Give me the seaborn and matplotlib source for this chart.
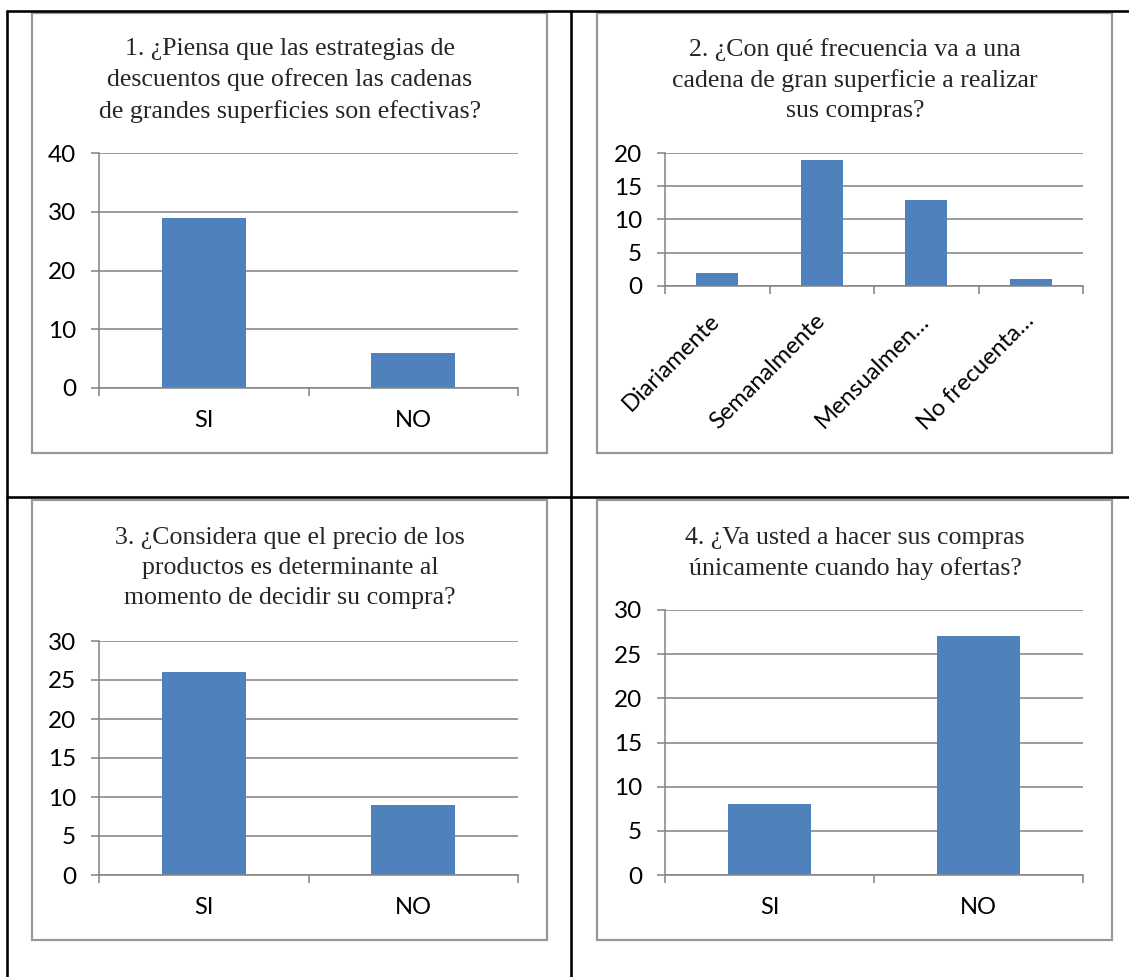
import matplotlib
matplotlib.use("Agg")
import matplotlib.pyplot as plt
from matplotlib.patches import Rectangle
from matplotlib.lines import Line2D
from matplotlib.transforms import ScaledTranslation
import seaborn as sns

# Survey answers (number of respondents)
q1_title = "1. ¿Piensa que las estrategias de\ndescuentos que ofrecen las cadenas\nde grandes superficies son efectivas?"
q1_labels = ["SI", "NO"]
q1_values = [29, 6]

q2_title = "2. ¿Con qué frecuencia va a una\ncadena de gran superficie a realizar\nsus compras?"
q2_labels = ["Diariamente", "Semanalmente", "Mensualmen…", "No frecuenta…"]
q2_values = [2, 19, 13, 1]

q3_title = "3. ¿Considera que el precio de los\nproductos es determinante al\nmomento de decidir su compra?"
q3_labels = ["SI", "NO"]
q3_values = [26, 9]

q4_title = "4. ¿Va usted a hacer sus compras\núnicamente cuando hay ofertas?"
q4_labels = ["SI", "NO"]
q4_values = [8, 27]

W, H = 1129, 977
BAR = "#4F81BD"
GRAY = "#868686"
BOX = "#989898"
PX = 72 / 100  # points per pixel

sns.set_style("white")
plt.rcParams["font.family"] = ["Lato", "DejaVu Sans"]

fig = plt.figure(figsize=(W / 100, H / 100), dpi=100)
fig.patch.set_facecolor("white")


def fx(x):
    return x / W


def fy(y):
    return 1 - y / H


# table grid lines
for (x0, y0, x1, y1) in [(7, 11, W, 11), (7, 11, 7, H), (571, 11, 571, H), (7, 497, W, 497)]:
    fig.add_artist(Line2D([fx(x0), fx(x1)], [fy(y0), fy(y1)], color="black",
                          lw=2.6 * PX, transform=fig.transFigure))

# chart frames
for (x0, y0, x1, y1) in [(32, 13, 547, 453), (597, 13, 1112, 453),
                         (32, 500, 547, 940), (597, 500, 1112, 940)]:
    fig.add_artist(Rectangle((fx(x0), fy(y1)), fx(x1) - fx(x0), fy(y0) - fy(y1),
                             fill=False, edgecolor=BOX, lw=2.2 * PX,
                             transform=fig.transFigure))


def chart(title, labels, values, plot_px, ymax, step, title_xy, rotate=False):
    x0, ytop, x1, y0 = plot_px
    ax = fig.add_axes([fx(x0), fy(y0), fx(x1) - fx(x0), fy(ytop) - fy(y0)])
    sns.barplot(x=labels, y=values, color=BAR, saturation=1, width=0.4, ax=ax,
                linewidth=0)
    n = len(labels)
    ax.set_xlim(-0.5, n - 0.5)
    ax.set_ylim(0, ymax)
    ax.set_yticks(range(0, ymax + 1, step))
    ax.set_xticks(range(n))
    ax.set_xticks([i - 0.5 for i in range(n + 1)], minor=True)
    ax.set_xticklabels(labels)
    ax.set_facecolor("none")
    ax.set_axisbelow(True)
    ax.yaxis.grid(True, color=GRAY, lw=1.6 * PX)
    for s in ["top", "right"]:
        ax.spines[s].set_visible(False)
    for s in ["left", "bottom"]:
        ax.spines[s].set_color(GRAY)
        ax.spines[s].set_linewidth(1.6 * PX)
    ax.tick_params(axis="y", which="major", length=8 * PX, width=1.6 * PX,
                   color=GRAY, labelsize=17.5, labelcolor="black", pad=15 * PX,
                   left=True)
    ax.tick_params(axis="x", which="minor", length=8 * PX, width=1.6 * PX,
                   color=GRAY, bottom=True)
    ax.tick_params(axis="x", which="major", length=0, labelsize=17,
                   labelcolor="black", pad=22 * PX if not rotate else 24 * PX)
    if rotate:
        shift = ScaledTranslation(-8 / 100, 0, fig.dpi_scale_trans)
        for t in ax.get_xticklabels():
            t.set_rotation(45)
            t.set_ha("right")
            t.set_va("top")
            t.set_rotation_mode("anchor")
            t.set_transform(t.get_transform() + shift)
    ax.set_xlabel("")
    ax.set_ylabel("")
    fig.text(fx(title_xy[0]), fy(title_xy[1]), title, ha="center", va="top",
             family="Liberation Serif", fontsize=18.6, linespacing=1.47)
    return ax


chart(q1_title, q1_labels, q1_values, (99, 153, 518, 388), 40, 10, (290, 38))
chart(q2_title, q2_labels, q2_values, (665, 153, 1083, 286), 20, 5, (855, 38), rotate=True)
chart(q3_title, q3_labels, q3_values, (99, 641, 518, 875), 30, 5, (290, 527))
chart(q4_title, q4_labels, q4_values, (665, 610, 1083, 875), 30, 5, (855, 527))

fig.savefig("out.png", dpi=100, facecolor="white")
